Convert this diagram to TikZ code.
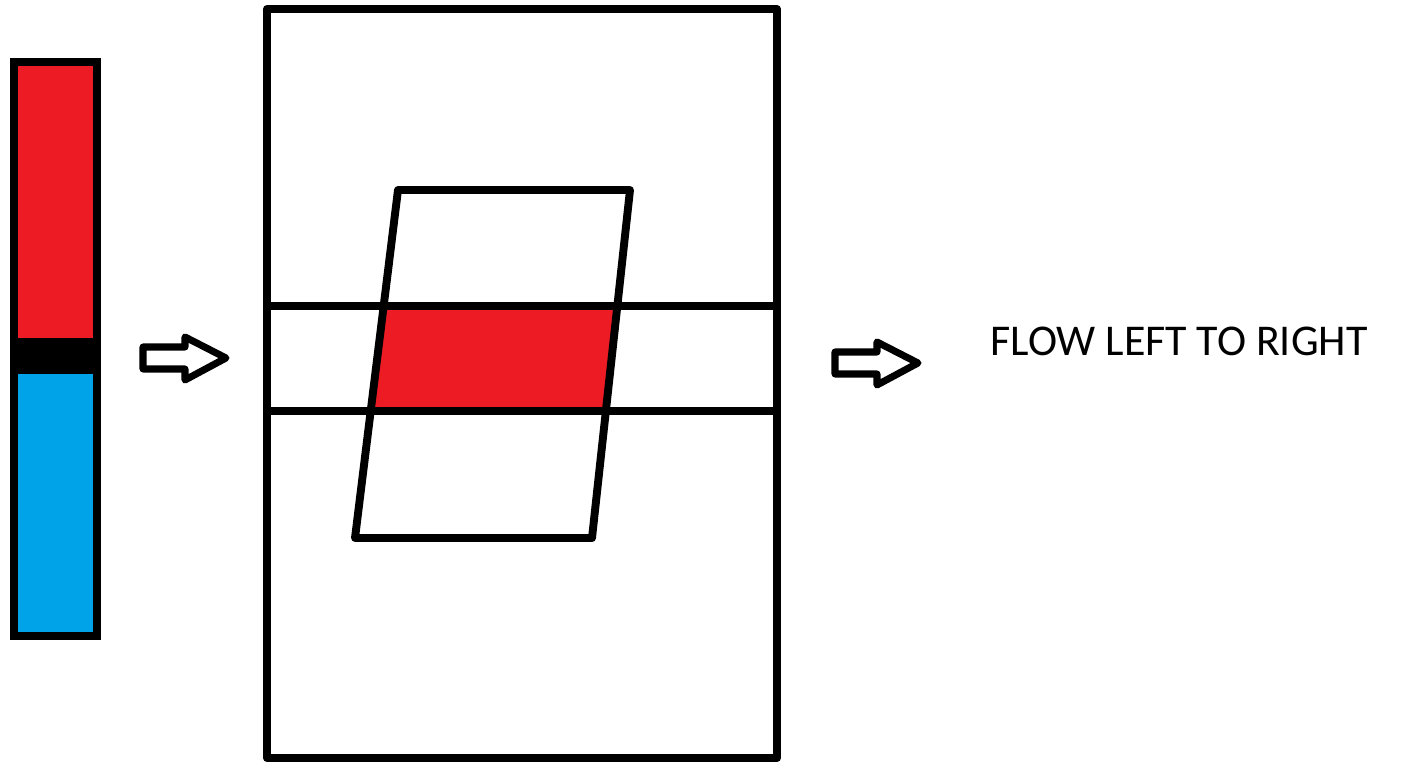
\documentclass[tikz,border=0pt]{standalone}
\usepackage{fontspec}
\setmainfont{Carlito}
\usepackage{tikz}
\usetikzlibrary{positioning}
\usepackage{xcolor}
\definecolor{paintred}{RGB}{237,28,36}
\definecolor{paintblue}{RGB}{0,162,232}
\tikzstyle{outline} = [draw=black, line width=4.5pt, line join=round]
\tikzstyle{blockarrow} = [draw=black, line width=4pt, line join=round, fill=white]

\begin{document}
\begin{tikzpicture}[x=0.02cm, y=-0.02cm]
\useasboundingbox (0,0) rectangle (1420,763);

% left bar
\fill[paintred] (14,62) rectangle (97,340);
\fill[paintblue] (14,372) rectangle (97,636);
\fill[black] (14,338) rectangle (97,374);
\draw[draw=black, line width=4.3pt] (14,62) rectangle (97,636);

% arrows
\foreach \ax/\ay in {143/358, 835/363}
  \draw[blockarrow] (\ax,\ay-11) -- (\ax+42,\ay-11) -- (\ax+42,\ay-21)
    -- (\ax+83,\ay) -- (\ax+42,\ay+22) -- (\ax+42,\ay+11) -- (\ax,\ay+11) -- cycle;

% red overlap
\begin{scope}
  \clip (398,190) -- (630,190) -- (592,538) -- (355,538) -- cycle;
  \fill[paintred] (267,306) rectangle (777,411);
\end{scope}

% channel
\draw[outline] (267,9) rectangle (777,758);
\draw[outline] (267,306) -- (777,306);
\draw[outline] (267,411) -- (777,411);

% slanted box
\draw[outline] (398,190) -- (630,190) -- (592,538) -- (355,538) -- cycle;

\node[anchor=base west, inner sep=0pt] (flow) at (990,356)
  {\fontsize{25}{30}\selectfont FLOW LEFT TO RIGHT};
\end{tikzpicture}
\end{document}
